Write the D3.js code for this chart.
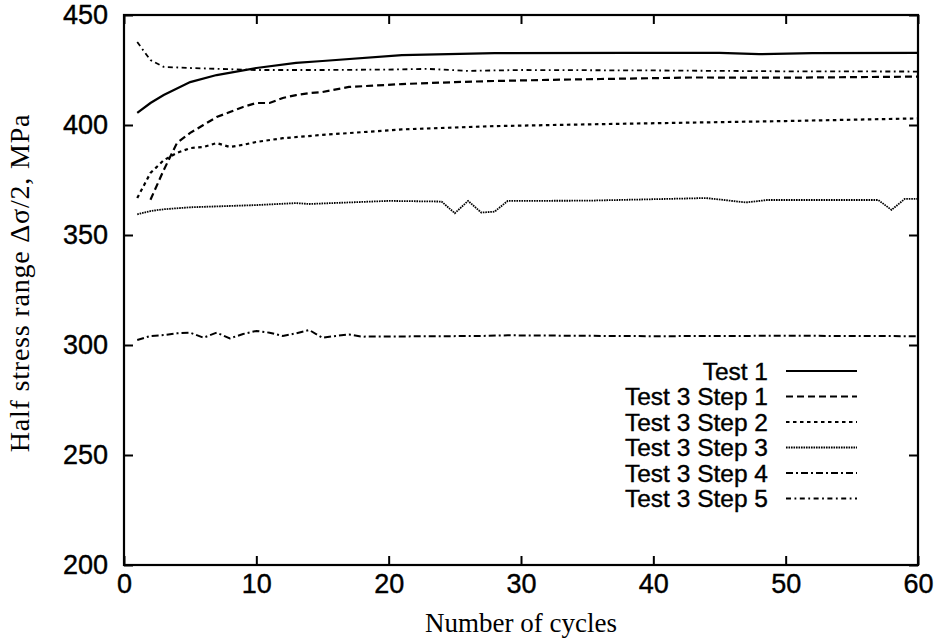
<!DOCTYPE html>
<html><head><meta charset="utf-8">
<script src="https://cdn.jsdelivr.net/npm/d3@7"></script>
<style>body{margin:0;background:#fff}svg{display:block}</style>
</head><body>
<svg id="c" width="934" height="639"></svg>
<script>
const seriesNames = ["Test 1","Test 3 Step 1","Test 3 Step 2","Test 3 Step 3","Test 3 Step 4","Test 3 Step 5"];
const test1X = [1,2,3,5,7,10,13,15,21,28,38,45,48,52,60];
const test1Y = [405.5,410,413.6,419.5,422.7,425.9,428.2,429.1,431.8,432.7,432.8,432.8,432.2,432.7,432.8];
const step1X = [2,3,4,5,6,7,8,9,10,11,12,13,14,15,17,21,25,28,32,36,43,50,60];
const step1Y = [366,379.5,391.8,396.4,400,403.6,405.9,408.2,410,410,412.3,413.6,414.5,415,417.3,418.6,419.5,420,420.5,420.9,421.6,421.5,422];
const step2X = [1,2,3,4,5,6,7,8,9,10,12,15,21,28,37,50,60];
const step2Y = [366.8,378.2,384,387.3,389.5,390,391.8,390,391,392.3,394,395.5,398,399.5,400.5,401.8,403];
const step3X = [1,2,3,5,10,13,14,20,24,25,26,27,28,29,35,44,47,48.6,57,58,59,60];
const step3Y = [359.4,360.9,361.7,362.6,363.6,364.5,364.1,365.5,365.2,359.9,365.5,360.2,360.6,365.5,365.6,366.8,364.8,365.9,365.9,361.4,366.4,366.4];
const step4X = [1,2,3,4,5,6,7,8,9,10,11,12,13,14,15,16,17,18,27,29,40,50,60];
const step4Y = [302.3,304.1,304.5,305.3,305.6,303.3,305.6,303,305,306.4,305.6,304.1,305.3,306.8,303.3,304.1,304.8,303.8,304.1,304.4,304,304.2,304];
const step5X = [1,2,3,5,10,15,20,23,26,30,40,50,60];
const step5Y = [437.7,429.5,426.4,425.9,425,425,425.2,425.5,424.6,425,424.8,424.4,424.3];
const xTicks = [0,10,20,30,40,50,60];
const yTicks = [200,250,300,350,400,450];

const seriesX = [test1X,step1X,step2X,step3X,step4X,step5X];
const seriesY = [test1Y,step1Y,step2Y,step3Y,step4Y,step5Y];
const dashes = [null,"7,4","3.5,3.5","1.6,0.9","7,3,2,3","5,3.5,1.8,3.5"];
const widths = [2.2,2.2,2.2,1.8,2,1.8];

const svg = d3.select("#c");
const L=124,R=918,T=15,B=565;
const x = d3.scaleLinear().domain([0,60]).range([L,R]);
const y = d3.scaleLinear().domain([200,450]).range([B,T]);

const line = d3.line().x(d=>x(d[0])).y(d=>y(d[1])).curve(d3.curveLinear);
seriesNames.forEach((n,i)=>{
  const pts = seriesX[i].map((v,j)=>[v,seriesY[i][j]]);
  svg.append("path").attr("d",line(pts)).attr("fill","none").attr("stroke","#000")
    .attr("stroke-width",widths[i]).attr("stroke-dasharray",dashes[i]);
});

const tickLen = 9;
const fontSans = "'Liberation Sans', Arial, Helvetica, sans-serif";
const gB = svg.append("g").attr("transform",`translate(0,${B})`)
  .call(d3.axisBottom(x).tickValues(xTicks).tickSize(-tickLen).tickPadding(9).tickFormat(d3.format("d")));
const gT = svg.append("g").attr("transform",`translate(0,${T})`)
  .call(d3.axisTop(x).tickValues(xTicks).tickSize(-tickLen).tickFormat(""));
const gL = svg.append("g").attr("transform",`translate(${L},0)`)
  .call(d3.axisLeft(y).tickValues(yTicks).tickSize(-tickLen).tickPadding(16).tickFormat(d3.format("d")));
const gR = svg.append("g").attr("transform",`translate(${R},0)`)
  .call(d3.axisRight(y).tickValues(yTicks).tickSize(-tickLen).tickFormat(""));
[gB,gT,gL,gR].forEach(g=>{
  g.select(".domain").remove();
  g.selectAll(".tick line").attr("stroke","#000").attr("stroke-width",2);
  g.selectAll("text").attr("font-family",fontSans).attr("font-size",27).attr("fill","#000")
    .attr("stroke","#000").attr("stroke-width",0.4);
});
svg.append("rect").attr("x",L).attr("y",T).attr("width",R-L).attr("height",B-T)
  .attr("fill","none").attr("stroke","#000").attr("stroke-width",2.2);

const fontSerif = "'Liberation Serif', 'Times New Roman', serif";
svg.append("text").attr("x",(L+R)/2).attr("y",632).attr("text-anchor","middle")
  .attr("font-family",fontSerif).attr("font-size",27).text("Number of cycles");
svg.append("text").attr("transform",`translate(29,283) rotate(-90)`).attr("text-anchor","middle")
  .attr("font-family",fontSerif).attr("font-size",28).attr("letter-spacing",0.8).text("Half stress range Δσ/2, MPa");

const legY0 = 371, legDy = 25.5;
seriesNames.forEach((n,i)=>{
  const yy = legY0 + i*legDy;
  svg.append("text").attr("x",768).attr("y",yy).attr("dy","0.35em").attr("text-anchor","end")
    .attr("font-family",fontSans).attr("font-size",24.5).attr("stroke","#000").attr("stroke-width",0.4).text(n);
  svg.append("line").attr("x1",786).attr("x2",857).attr("y1",yy).attr("y2",yy)
    .attr("stroke","#000").attr("stroke-width",widths[i]).attr("stroke-dasharray",dashes[i]);
});
</script>
</body></html>
